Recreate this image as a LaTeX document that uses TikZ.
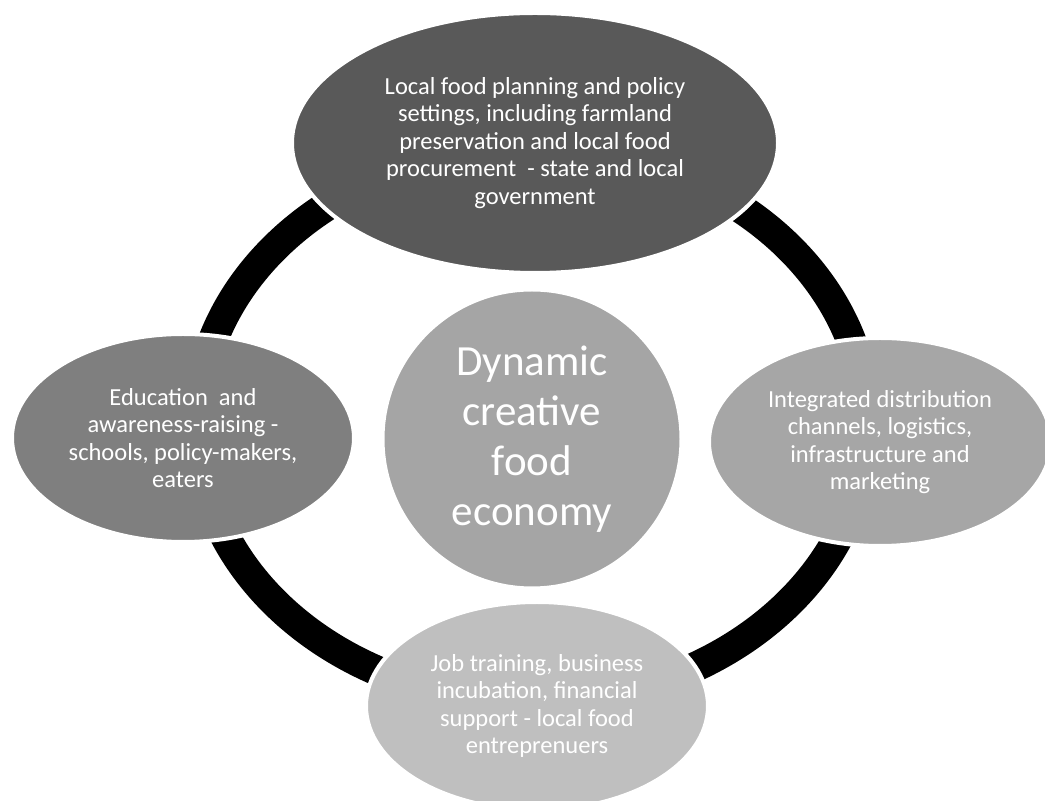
\documentclass[tikz,border=0pt]{standalone}
\usepackage{fontspec}
\setmainfont{Carlito}
\usetikzlibrary{shapes.geometric}

\definecolor{plangray}{HTML}{595959}
\definecolor{edugray}{HTML}{7F7F7F}
\definecolor{hubgray}{HTML}{A5A5A5}
\definecolor{distgray}{HTML}{A6A6A6}
\definecolor{jobgray}{HTML}{BFBFBF}

\begin{document}
\begin{tikzpicture}[x=1pt, y=1pt,
  petal/.style={ellipse, draw=white, line width=4pt, text=white, align=center,
    inner sep=0pt, minimum width=342pt, minimum height=208pt,
    font=\fontsize{24.5}{27.5}\selectfont},
  hub/.style={circle, fill=hubgray, draw=white, line width=4pt, text=white,
    align=center, inner sep=0pt, minimum size=299pt,
    font=\fontsize{43}{50}\selectfont},
  ring/.style={draw=black, line width=30pt}]

\useasboundingbox (0,0) rectangle (1045,801);

% the cycle, drawn first so the petals cover it
\coordinate (middle) at (532,376);
\draw [ring] (middle) ellipse [x radius=335, y radius=277];

% top petal is the big one
\node [petal, fill=plangray, minimum width=486pt, minimum height=260pt] (plan) at (535,658)
  {Local food planning and policy\\settings, including farmland\\preservation and local food\\procurement\ \ - state and local\\government};

\foreach \name/\x/\y/\shade/\txt in {
    edu/183/363/edugray/{Education\ \ and\\awareness-raising -\\schools, policy-makers,\\eaters},
    dist/880/359/distgray/{Integrated distribution\\channels, logistics,\\infrastructure and\\marketing},
    job/537/95/jobgray/{Job training, business\\incubation, financial\\support - local food\\entreprenuers}}
  \node [petal, fill=\shade] (\name) at (\x,\y) {\txt};

% hub in the middle
\node [hub] (economy) at (532,362) {Dynamic\\creative\\food\\economy};
\end{tikzpicture}
\end{document}
